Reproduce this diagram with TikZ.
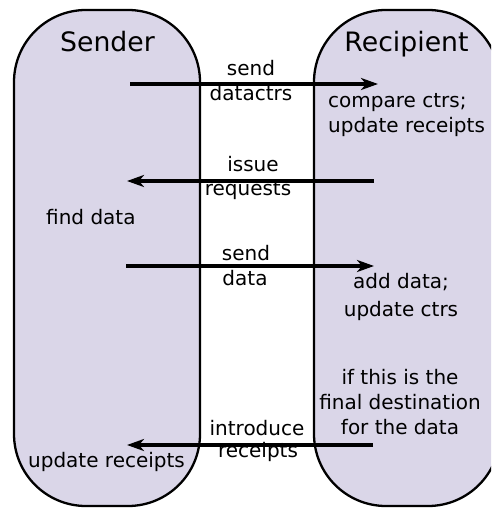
\documentclass[tikz,border=0pt]{standalone}
\usepackage{fontspec}
\setmainfont{DejaVu Sans}
\usetikzlibrary{arrows.meta}

\definecolor{lanefill}{HTML}{DAD6E8}

\begin{document}
\begin{tikzpicture}[x=1pt,y=-1pt,
    lane/.style={draw,line width=2.3pt,fill=lanefill,rounded corners=72pt,
      minimum width=186pt,minimum height=496pt,inner sep=0pt},
    title/.style={font=\fontsize{26.7}{32}\selectfont,inner sep=0pt,anchor=base},
    txt/.style={font=\fontsize{20}{25}\selectfont,inner sep=0pt,anchor=base},
    msg/.style={line width=3.3pt,-{Stealth[length=17pt,width=12pt,inset=5pt]}}]
  \useasboundingbox (0,0) rectangle (491,508);
  \clip (0,0) rectangle (491,508);
  % lanes
  \node[lane] (sender) at (107,258) {};
  \node[lane] (recipient) at (407,258) {};
  \node[title] (sendertitle) at (107.5,52) {Sender};
  \node[title] (recipienttitle) at (406.5,52) {Recipient};
  % message ends
  \coordinate (s1) at (130,84);  \coordinate (r1) at (378,84);
  \coordinate (s2) at (127,181); \coordinate (r2) at (374,181);
  \coordinate (s3) at (126,266); \coordinate (r3) at (374,266);
  \coordinate (s4) at (127,445); \coordinate (r4) at (373,445);
  % messages
  \draw[msg] (s1) -- (r1);
  \draw[msg] (r2) -- (s2);
  \draw[msg] (s3) -- (r3);
  \draw[msg] (r4) -- (s4);
  % message labels
  \node[txt] (l1a) at (251,76) {send};
  \node[txt] (l1b) at (251,100) {datactrs};
  \node[txt] (l2a) at (253,171) {issue};
  \node[txt] (l2b) at (248,195) {requests};
  \node[txt] (l3a) at (246,260) {send};
  \node[txt] (l3b) at (245,285) {data};
  \node[txt] (l4a) at (257,435) {introduce};
  \node[txt] (l4b) at (258,457) {receipts};
  % actions (base is the last line)
  \node[txt,align=left,anchor=base west] (compare) at (328,132)
    {compare ctrs;\\update receipts};
  \node[txt,anchor=base west] (find) at (46,224) {find data};
  \node[txt,align=center,font=\fontsize{20}{28}\selectfont] (add) at (401,316)
    {add data;\\update ctrs};
  \node[txt,align=center] (final) at (400,434)
    {if this is the\\final destination\\for the data};
  \node[txt] (receipts) at (106.5,467) {update receipts};
\end{tikzpicture}
\end{document}
